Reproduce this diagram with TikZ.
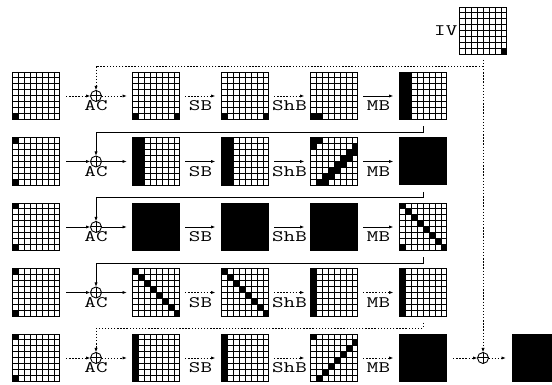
\documentclass[tikz,border=0pt]{standalone}
\usepackage{fontspec}
\setmonofont[FakeStretch=1.4]{Latin Modern Mono}
\usetikzlibrary{arrows.meta}
\newcommand\cellgrid[4]{%
  \node[gbox] (#1) at (#2+24,#3-24) {};
  \begin{scope}[shift={(#2,#3-48)}]
    \foreach \ci/\ri in {#4} {\fill (6*\ci,42-6*\ri) rectangle ++(6,6);}
    \draw[gline] (0,0) grid[step=6pt] (48,48);
  \end{scope}
}
\newcommand\fullgrid[3]{%
  \node[gbox,fill=black] (#1) at (#2+24,#3-24) {};
}
\newcommand\xorat[3]{%
  \node[xorc] (#1) at (#2,#3) {};
  \draw[gline] (#1.north) -- (#1.south) (#1.west) -- (#1.east);
}
\begin{document}
\begin{tikzpicture}[x=1pt,y=1pt,
  gbox/.style={minimum size=48pt, inner sep=0pt, outer sep=0pt, draw=none},
  gline/.style={line width=1pt},
  xorc/.style={circle, draw, line width=0.9pt, minimum size=11pt, inner sep=0pt, outer sep=0pt},
  conn/.style={line width=0.9pt, -{Latex[length=4.5pt,width=3.2pt]}},
  plain/.style={line width=0.9pt},
  dotln/.style={dash pattern=on 1.4pt off 1.7pt},
  lbl/.style={font=\fontsize{16}{16}\selectfont\ttfamily, inner sep=0pt, anchor=base},
  ga/.style={shorten <=5pt, shorten >=5.5pt},
]
\useasboundingbox[fill=white] (0,0) rectangle (552,385);

% ---------- row 1 (top Y=313, centre 289)
\cellgrid{g10}{12}{313}{0/7}
\cellgrid{g11}{132}{313}{0/7,7/7}
\cellgrid{g12}{221}{313}{0/7,7/7}
\cellgrid{g13}{310}{313}{0/7,1/7}
\cellgrid{g14}{399}{313}{0/0,0/1,0/2,0/3,0/4,0/5,0/6,0/7,1/0,1/1,1/2,1/3,1/4,1/5,1/6,1/7}
% ---------- row 2 (top 247.5, centre 223.5)
\cellgrid{g20}{12}{247.5}{0/0,0/7}
\cellgrid{g21}{132}{247.5}{0/0,0/1,0/2,0/3,0/4,0/5,0/6,0/7,1/0,1/1,1/2,1/3,1/4,1/5,1/6,1/7}
\cellgrid{g22}{221}{247.5}{0/0,0/1,0/2,0/3,0/4,0/5,0/6,0/7,1/0,1/1,1/2,1/3,1/4,1/5,1/6,1/7}
\cellgrid{g23}{310}{247.5}{0/0,1/0,7/1,0/1,6/2,7/2,5/3,6/3,4/4,5/4,3/5,4/5,2/6,3/6,1/7,2/7}
\fullgrid{g24}{399}{247.5}
% ---------- row 3 (top 182, centre 158)
\cellgrid{g30}{12}{182}{0/0,0/7}
\fullgrid{g31}{132}{182}
\fullgrid{g32}{221}{182}
\fullgrid{g33}{310}{182}
\cellgrid{g34}{399}{182}{0/0,1/1,2/2,3/3,4/4,5/5,6/6,7/7,0/7}
% ---------- row 4 (top 116.5, centre 92.5)
\cellgrid{g40}{12}{116.5}{0/0,0/7}
\cellgrid{g41}{132}{116.5}{0/0,1/1,2/2,3/3,4/4,5/5,6/6,7/7}
\cellgrid{g42}{221}{116.5}{0/0,1/1,2/2,3/3,4/4,5/5,6/6,7/7}
\cellgrid{g43}{310}{116.5}{0/0,0/1,0/2,0/3,0/4,0/5,0/6,0/7}
\cellgrid{g44}{399}{116.5}{0/0,0/1,0/2,0/3,0/4,0/5,0/6,0/7}
% ---------- row 5 (top 51, centre 27)
\cellgrid{g50}{12}{51}{0/0,0/7}
\cellgrid{g51}{132}{51}{0/0,0/1,0/2,0/3,0/4,0/5,0/6,0/7}
\cellgrid{g52}{221}{51}{0/0,0/1,0/2,0/3,0/4,0/5,0/6,0/7}
\cellgrid{g53}{310}{51}{0/0,7/1,6/2,5/3,4/4,3/5,2/6,1/7}
\fullgrid{g54}{399}{51}
% ---------- IV and final output
\cellgrid{giv}{459}{378}{7/7}
\node[lbl,anchor=east] (liv) at ([xshift=-1.5pt]giv.west) {IV};
\fullgrid{gout}{512}{51}

% ---------- XOR circles
\xorat{c1}{96}{289}
\xorat{c2}{96}{223.5}
\xorat{c3}{96}{158}
\xorat{c4}{96}{92.5}
\xorat{c5}{96}{27}
\xorat{cf}{483}{27}

% ---------- labels
\foreach \yc/\k in {289/1,223.5/2,158/3,92.5/4,27/5}{
  \node[lbl] (ac\k) at (96,\yc-15) {AC};
  \node[lbl] (sb\k) at (200.5,\yc-14.7) {SB};
  \node[lbl] (sh\k) at (289.5,\yc-14.7) {ShB};
  \node[lbl] (mb\k) at (378.5,\yc-14.7) {MB};
}

% ---------- row arrows
% row 1
\draw[conn,dotln,shorten <=6pt] (g10.east) -- (c1.west);
\draw[conn,dotln,shorten >=5pt] (c1.east) -- (g11.west);
\draw[conn,dotln,ga] (g11.east) -- (g12.west);
\draw[conn,dotln,ga] (g12.east) -- (g13.west);
\draw[conn,ga] (g13.east) -- (g14.west);
% row 2
\draw[conn,shorten <=6pt] (g20.east) -- (c2.west);
\draw[conn,shorten >=5pt] (c2.east) -- (g21.west);
\draw[conn,ga] (g21.east) -- (g22.west);
\draw[conn,ga] (g22.east) -- (g23.west);
\draw[conn,ga] (g23.east) -- (g24.west);
% row 3
\draw[conn,shorten <=6pt] (g30.east) -- (c3.west);
\draw[conn,shorten >=5pt] (c3.east) -- (g31.west);
\draw[conn,ga] (g31.east) -- (g32.west);
\draw[conn,ga] (g32.east) -- (g33.west);
\draw[conn,ga] (g33.east) -- (g34.west);
% row 4
\draw[conn,shorten <=6pt] (g40.east) -- (c4.west);
\draw[conn,shorten >=5pt] (c4.east) -- (g41.west);
\draw[conn,dotln,ga] (g41.east) -- (g42.west);
\draw[conn,dotln,ga] (g42.east) -- (g43.west);
\draw[conn,dotln,ga] (g43.east) -- (g44.west);
% row 5
\draw[conn,dotln,shorten <=6pt] (g50.east) -- (c5.west);
\draw[conn,dotln,shorten >=5pt] (c5.east) -- (g51.west);
\draw[conn,dotln,ga] (g51.east) -- (g52.west);
\draw[conn,dotln,ga] (g52.east) -- (g53.west);
\draw[conn,dotln,ga] (g53.east) -- (g54.west);
\draw[conn,dotln,shorten <=6pt] (g54.east) -- (cf.west);
\draw[conn,dotln,shorten >=6pt] (cf.east) -- (gout.west);

% ---------- feedback connectors
\draw[conn] ([yshift=-6.5pt]g14.south) -- ++(0,-5.5) -| (c2.north);
\draw[conn] ([yshift=-6.5pt]g24.south) -- ++(0,-5.5) -| (c3.north);
\draw[conn] ([yshift=-6.5pt]g34.south) -- ++(0,-5.5) -| (c4.north);
\draw[conn,dotln] ([yshift=-6.5pt]g44.south) -- ++(0,-5.5) -| (c5.north);

% ---------- IV distribution
\coordinate (br) at (483,319);
\draw[plain,dotln] ([yshift=-5pt]giv.south) -- (br);
\draw[conn,dotln] (br) -| (c1.north);
\draw[conn,dotln] (br) -- (cf.north);
\end{tikzpicture}
\end{document}
